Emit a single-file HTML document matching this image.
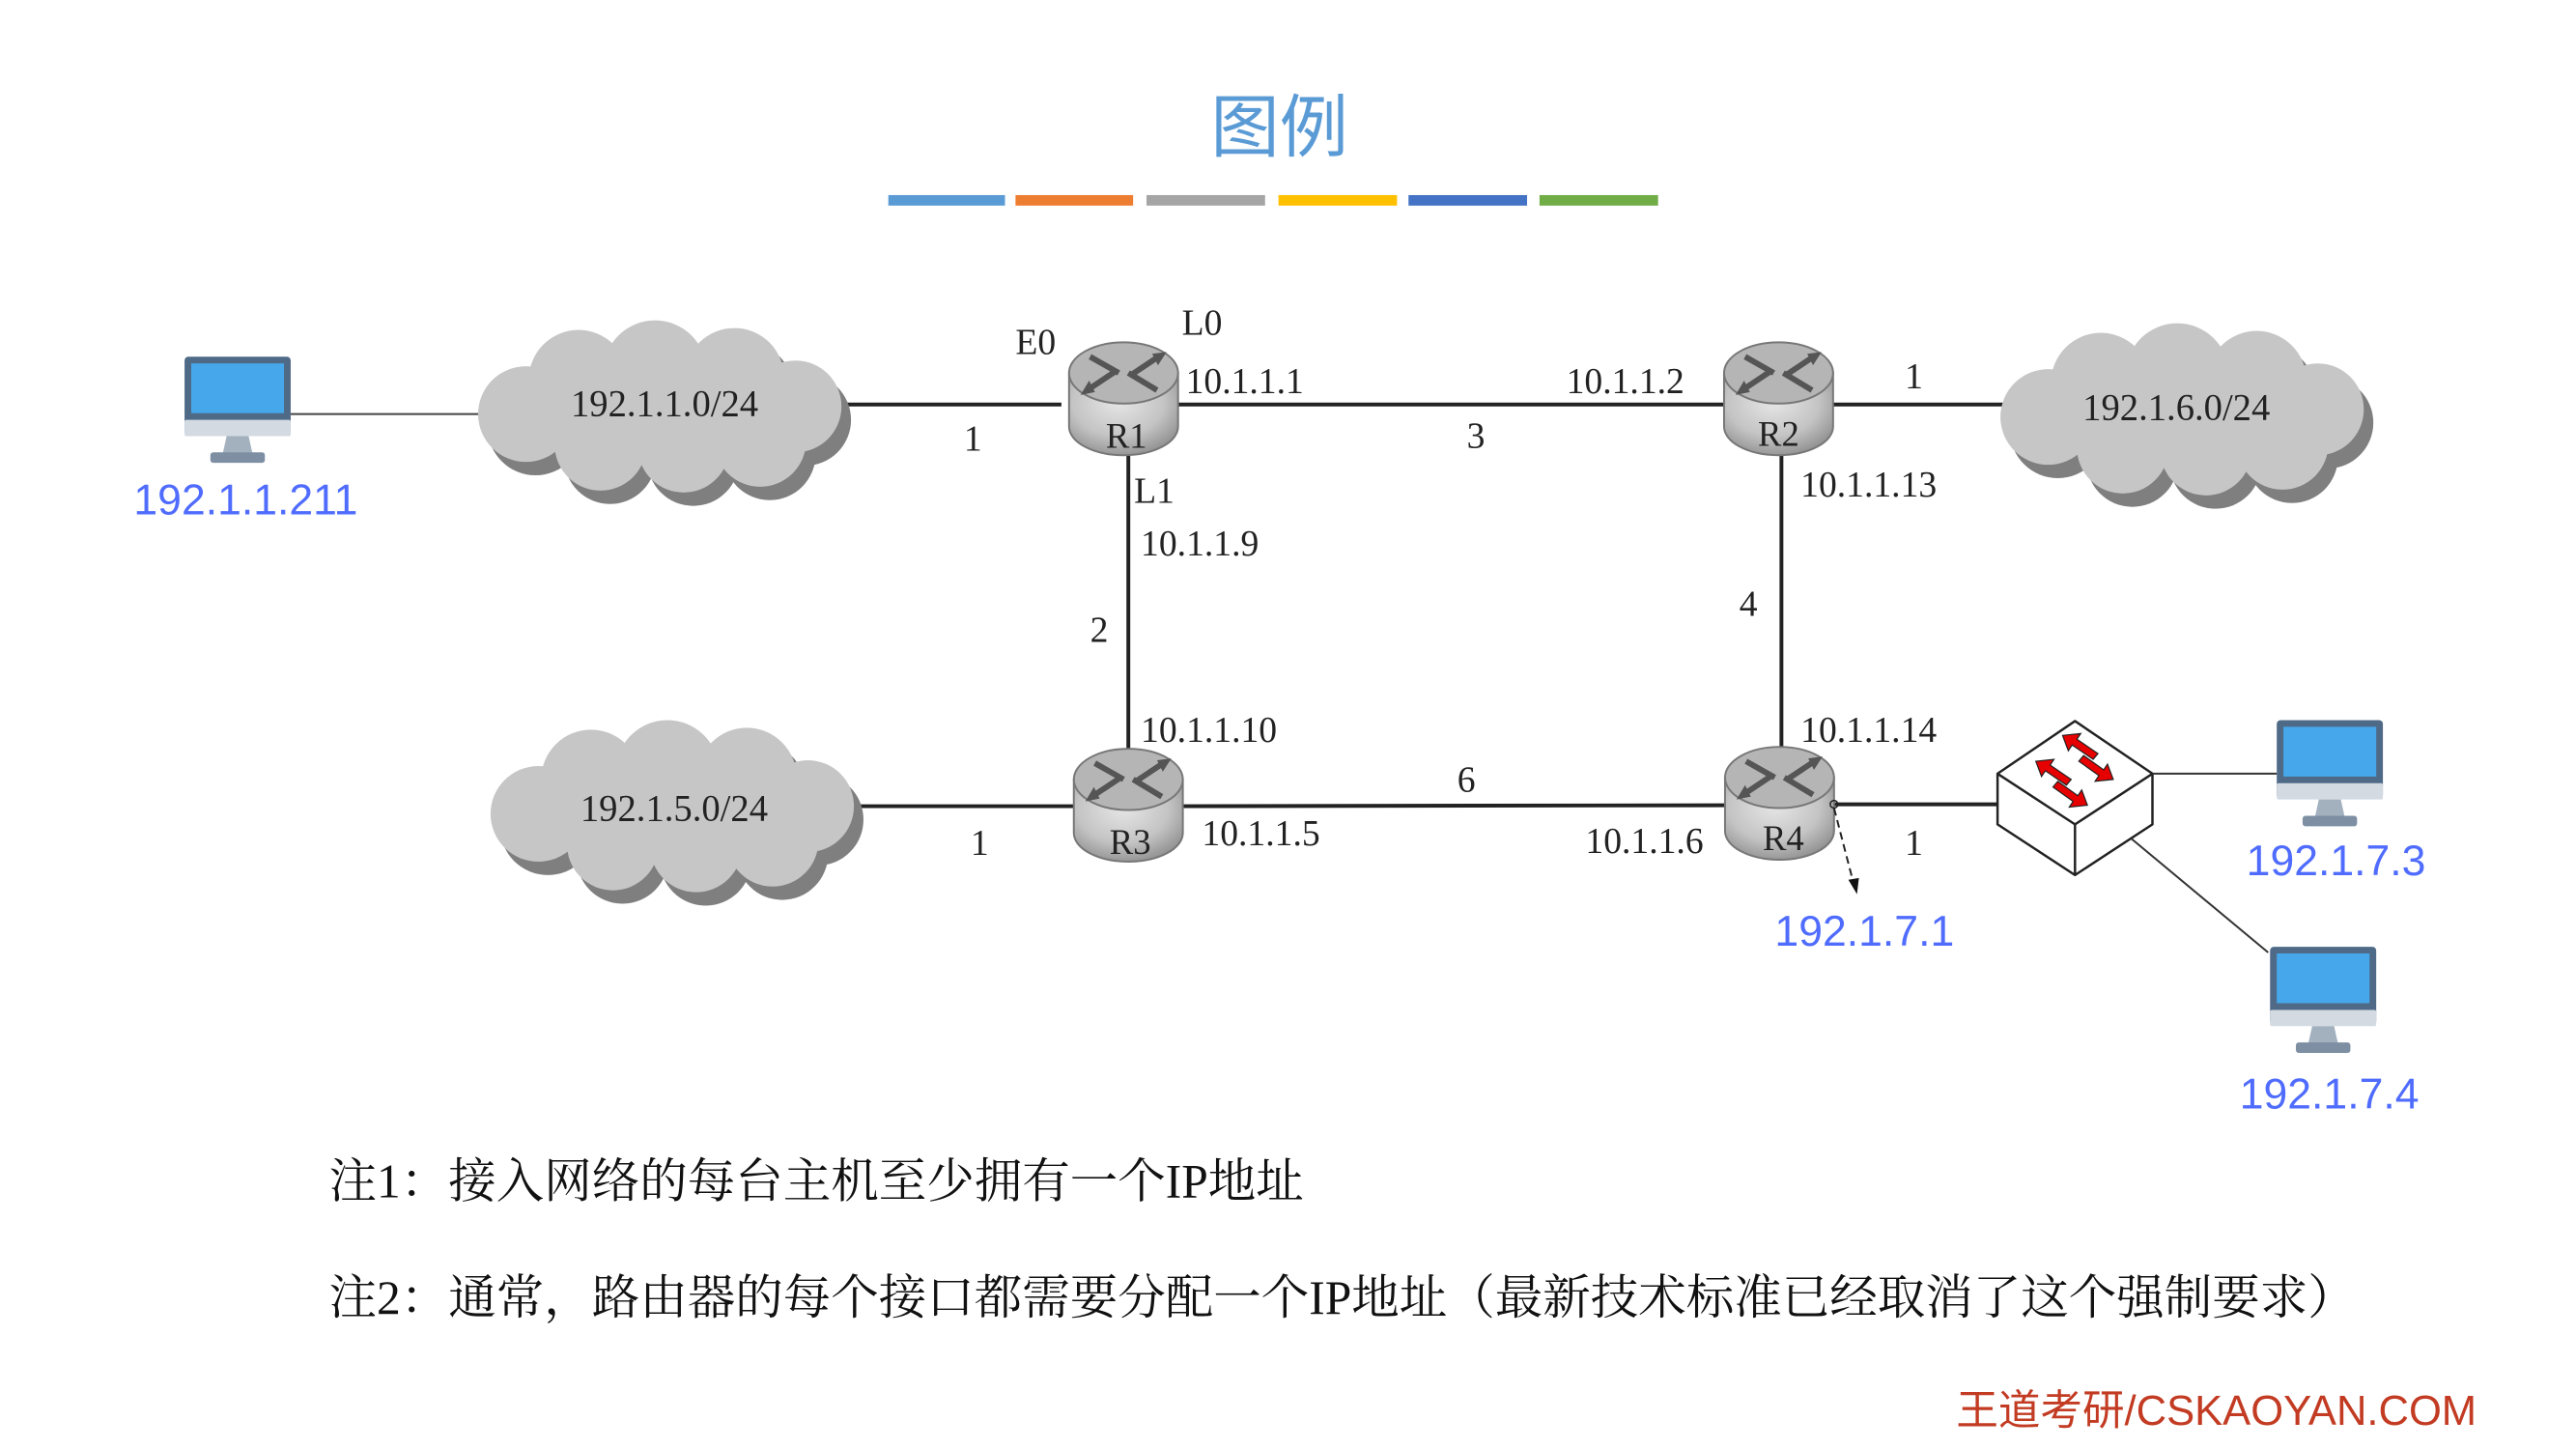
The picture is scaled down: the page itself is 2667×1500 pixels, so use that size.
<!DOCTYPE html>
<html><head><meta charset="utf-8"><style>
html,body{margin:0;padding:0;background:#fff;}
svg{display:block;}
.ser{font-family:"Liberation Serif",serif;fill:#222;}
.blue{font-family:"Liberation Sans",sans-serif;fill:#4f6cff;font-size:45px;}
.cj{font-family:"Liberation Serif","Noto Serif CJK SC",serif;fill:#111;font-size:50px;}
</style></head><body>
<svg width="2667" height="1500" viewBox="0 0 2667 1500" xmlns="http://www.w3.org/2000/svg">
<defs>
<radialGradient id="rg" cx="0.45" cy="0.35" r="0.7">
<stop offset="0" stop-color="#e6e6e6"/><stop offset="0.6" stop-color="#c4c4c4"/><stop offset="1" stop-color="#8d8d8d"/>
</radialGradient>
<g id="cloudshape">
<ellipse cx="0" cy="0" rx="165" ry="62"/>
<circle cx="-140" cy="8" r="50"/>
<circle cx="-85" cy="-28" r="52"/>
<circle cx="-5" cy="-36" r="54"/>
<circle cx="78" cy="-30" r="52"/>
<circle cx="142" cy="0" r="48"/>
<circle cx="105" cy="36" r="48"/>
<circle cx="25" cy="42" r="48"/>
<circle cx="-62" cy="40" r="48"/>
</g>
<g id="cloud">
<use href="#cloudshape" transform="translate(10,14)" fill="#7f7f7f"/>
<use href="#cloudshape" fill="#c6c6c6"/>
</g>
<g id="router">
<path d="M-57,-28 L-57,28 A57,30 0 0 0 57,28 L57,-28 Z" fill="url(#rg)" stroke="#777" stroke-width="2"/>
<ellipse cx="0" cy="-28" rx="57" ry="32" fill="#b5b5b5" stroke="#777" stroke-width="2"/>
<g stroke="#555" stroke-width="6" fill="#555">
<line x1="-35" y1="-45" x2="-5" y2="-28"/><line x1="35" y1="-10" x2="5" y2="-28"/>
<line x1="-38" y1="-10" x2="-8" y2="-30"/><line x1="38" y1="-46" x2="8" y2="-26"/>
<polygon points="-45,-5 -30,-8 -36,-20" stroke="none"/>
<polygon points="45,-50 30,-48 36,-36" stroke="none"/>
</g>
</g>
<g id="pc">
<rect x="0" y="0" width="111" height="82" rx="4" fill="#4f6a87"/>
<rect x="7" y="7" width="97" height="52" fill="#46a8ea"/>
<rect x="0" y="66" width="111" height="17" rx="2" fill="#d3dae2"/>
<polygon points="44,83 67,83 71,101 40,101" fill="#a3b1bf"/>
<rect x="27" y="100" width="57" height="11" rx="3" fill="#7e8fa3"/>
</g>
</defs>
<g transform="scale(0.99)">
<text x="1338" y="158" text-anchor="middle" font-family="Liberation Sans,'Noto Sans CJK SC',sans-serif" font-size="72" fill="#5b9bd5">图例</text>
<g>
<rect x="929" y="204" width="122" height="11" fill="#5b9bd5"/>
<rect x="1062" y="204" width="123" height="11" fill="#ed7d31"/>
<rect x="1199" y="204" width="124" height="11" fill="#a5a5a5"/>
<rect x="1337" y="204" width="124" height="11" fill="#ffc000"/>
<rect x="1473" y="204" width="124" height="11" fill="#4472c4"/>
<rect x="1610" y="204" width="124" height="11" fill="#70ad47"/>
</g>

<g stroke="#222" stroke-width="4" fill="none">
<line x1="880" y1="423" x2="1110" y2="423"/>
<line x1="1215" y1="423" x2="1808" y2="423"/>
<line x1="1915" y1="423" x2="2095" y2="423"/>
<line x1="1180" y1="470" x2="1180" y2="800"/>
<line x1="1863" y1="470" x2="1863" y2="800"/>
<line x1="890" y1="843" x2="1125" y2="843"/>
<line x1="1230" y1="843" x2="1808" y2="842"/>
<line x1="1915" y1="841" x2="2089" y2="841"/>
</g>
<line x1="304" y1="433" x2="525" y2="433" stroke="#444" stroke-width="2"/>

<use href="#cloud" transform="translate(690,425)"/>
<use href="#cloud" transform="translate(2282,428)"/>
<use href="#cloud" transform="translate(703,843)"/>
<text class="ser" x="695" y="435" font-size="39" text-anchor="middle">192.1.1.0/24</text>
<text class="ser" x="2276" y="439" font-size="39" text-anchor="middle">192.1.6.0/24</text>
<text class="ser" x="705" y="858" font-size="39" text-anchor="middle">192.1.5.0/24</text>

<use href="#router" transform="translate(1175,418)"/>
<use href="#router" transform="translate(1860,418)"/>
<use href="#router" transform="translate(1180,843)"/>
<use href="#router" transform="translate(1861,841)"/>
<g class="ser" font-size="37" text-anchor="middle">
<text x="1178" y="468">R1</text><text x="1860" y="466">R2</text>
<text x="1182" y="893">R3</text><text x="1865" y="889">R4</text>
</g>

<g class="ser" font-size="38">
<text x="1062" y="370">E0</text>
<text x="1236" y="350">L0</text>
<text x="1240" y="411">10.1.1.1</text>
<text x="1638" y="411">10.1.1.2</text>
<text x="1008" y="471">1</text>
<text x="1534" y="468">3</text>
<text x="1992" y="406">1</text>
<text x="1186" y="526">L1</text>
<text x="1193" y="581">10.1.1.9</text>
<text x="1140" y="671">2</text>
<text x="1193" y="776">10.1.1.10</text>
<text x="1883" y="519">10.1.1.13</text>
<text x="1819" y="644">4</text>
<text x="1883" y="776">10.1.1.14</text>
<text x="1524" y="828">6</text>
<text x="1015" y="894">1</text>
<text x="1257" y="884">10.1.1.5</text>
<text x="1658" y="892">10.1.1.6</text>
<text x="1992" y="894">1</text>
</g>

<circle cx="1918" cy="841" r="4" fill="none" stroke="#222" stroke-width="1.5"/>
<line x1="1918" y1="845" x2="1938" y2="922" stroke="#222" stroke-width="2" stroke-dasharray="8,5"/>
<polygon points="1933,920 1944,918 1942,935" fill="#111"/>
<text class="blue" x="1856" y="989">192.1.7.1</text>

<g transform="translate(23,9)">
<g stroke="#222" stroke-width="2.5" fill="#fff" stroke-linejoin="round">
<polygon points="2147,745 2228,800 2228,853 2147,906 2066,853 2066,800"/>
<polyline points="2066,800 2147,853 2228,800" fill="none"/>
<line x1="2147" y1="853" x2="2147" y2="906"/>
</g>
<g fill="#e60000" stroke="#222" stroke-width="1.2">
<polygon points="2134,760 2153,758 2149,764 2171,779 2166,785 2144,770 2140,776"/>
<polygon points="2187,806 2168,808 2172,802 2151,787 2156,781 2177,796 2181,790"/>
<polygon points="2106,787 2125,785 2121,791 2143,806 2138,812 2116,797 2112,803"/>
<polygon points="2160,833 2141,835 2145,829 2124,814 2129,808 2150,823 2154,817"/>
</g>
</g>
<line x1="2251" y1="809" x2="2381" y2="809" stroke="#333" stroke-width="2"/>
<line x1="2229" y1="877" x2="2372" y2="996" stroke="#333" stroke-width="2"/>

<use href="#pc" transform="translate(193,373)"/>
<use href="#pc" transform="translate(2381,753)"/>
<use href="#pc" transform="translate(2374,990)"/>
<text class="blue" x="257" y="538" text-anchor="middle">192.1.1.211</text>
<text class="blue" x="2443" y="915" text-anchor="middle">192.1.7.3</text>
<text class="blue" x="2436" y="1159" text-anchor="middle">192.1.7.4</text>

<text class="cj" x="344" y="1252">注1：接入网络的每台主机至少拥有一个IP地址</text>
<text class="cj" x="344" y="1374">注2：通常，路由器的每个接口都需要分配一个IP地址（最新技术标准已经取消了这个强制要求）</text>
<text x="2590" y="1490" text-anchor="end" font-family="Liberation Sans,'Noto Sans CJK SC',sans-serif" font-size="44" fill="#c23b22">王道考研/CSKAOYAN.COM</text>
</g>
</svg>
</body></html>
